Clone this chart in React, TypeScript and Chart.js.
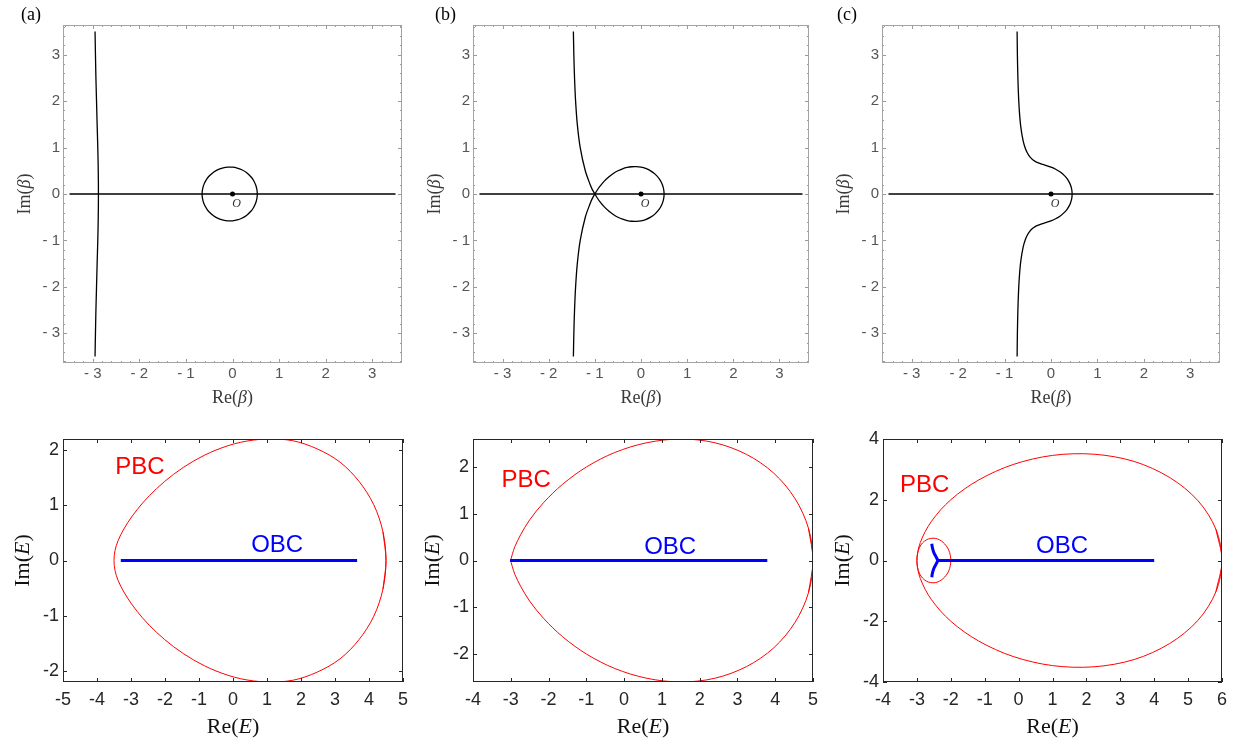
import React, { useEffect, useRef } from 'react';
import { Chart, registerables } from 'chart.js';

Chart.register(...registerables);

type Pt = [number, number];

// ---------- top row: beta plane curves ----------
const BETA_TICKS = [-3, -2, -1, 0, 1, 2, 3];
const BETA_RANGE: [number, number] = [-3.64, 3.64];
const BETA_AXIS: Pt[] = [[-3.5, 0], [3.5, 0]];
const BETA_ORIGIN: Pt[] = [[0, 0]];

const BETA_A_LOOP: Pt[] = [
  [-0.65, -0.055], [-0.653, 0], [-0.65, 0.055], [-0.63, 0.158], [-0.6, 0.238], [-0.55, 0.325], [-0.5, 0.387],
  [-0.4, 0.474], [-0.3, 0.53], [-0.2, 0.563], [-0.1, 0.579], [0, 0.577], [0.1, 0.559], [0.2, 0.522],
  [0.3, 0.462], [0.4, 0.366], [0.45, 0.296], [0.5, 0.189], [0.52, 0.117], [0.53, 0.049], [0.532, 0],
  [0.53, -0.049], [0.52, -0.117], [0.5, -0.189], [0.45, -0.296], [0.4, -0.366], [0.3, -0.462], [0.2, -0.522],
  [0.1, -0.559], [0, -0.577], [-0.1, -0.579], [-0.2, -0.563], [-0.3, -0.53], [-0.4, -0.474], [-0.5, -0.387],
  [-0.55, -0.325], [-0.6, -0.238], [-0.63, -0.158], [-0.65, -0.055], [-0.653, 0], [-0.65, 0.055],
];
const BETA_A_BRANCH: Pt[] = [
  [-2.952, -3.5], [-2.943, -3], [-2.933, -2.5], [-2.92, -2], [-2.907, -1.5], [-2.893, -1], [-2.883, -0.5],
  [-2.879, 0], [-2.883, 0.5], [-2.893, 1], [-2.907, 1.5], [-2.92, 2], [-2.933, 2.5], [-2.943, 3], [-2.952, 3.5],
];
const BETA_B_CURVE: Pt[] = [
  [-1.465, -3.5], [-1.455, -3], [-1.44, -2.5], [-1.417, -2], [-1.38, -1.5], [-1.317, -1], [-1.207, -0.5],
  [-1.1, -0.2], [-1.057, -0.1], [-1, 0], [-0.95, 0.081], [-0.9, 0.153], [-0.8, 0.273], [-0.7, 0.367],
  [-0.6, 0.442], [-0.5, 0.5], [-0.4, 0.543], [-0.3, 0.572], [-0.2, 0.587], [-0.1, 0.589], [0, 0.577],
  [0.1, 0.55], [0.2, 0.504], [0.3, 0.433], [0.4, 0.321], [0.45, 0.232], [0.48, 0.149], [0.495, 0.075],
  [0.5, 0], [0.495, -0.075], [0.48, -0.149], [0.45, -0.232], [0.4, -0.321], [0.3, -0.433], [0.2, -0.504],
  [0.1, -0.55], [0, -0.577], [-0.1, -0.589], [-0.2, -0.587], [-0.3, -0.572], [-0.4, -0.543], [-0.5, -0.5],
  [-0.6, -0.442], [-0.7, -0.367], [-0.8, -0.273], [-0.9, -0.153], [-0.95, -0.081], [-1, 0], [-1.057, 0.1],
  [-1.1, 0.2], [-1.207, 0.5], [-1.317, 1], [-1.38, 1.5], [-1.417, 2], [-1.44, 2.5], [-1.455, 3], [-1.465, 3.5],
];
const BETA_C_CURVE: Pt[] = [
  [-0.73, -3.5], [-0.724, -3], [-0.713, -2.5], [-0.7, -2.124], [-0.68, -1.763], [-0.65, -1.441], [-0.6, -1.143],
  [-0.55, -0.973], [-0.5, -0.866], [-0.45, -0.794], [-0.4, -0.745], [-0.35, -0.709], [-0.3, -0.682],
  [-0.2, -0.644], [-0.1, -0.612], [0, -0.577], [0.1, -0.533], [0.2, -0.472], [0.3, -0.385], [0.35, -0.324],
  [0.4, -0.24], [0.42, -0.193], [0.44, -0.128], [0.45, -0.076], [0.455, 0], [0.45, 0.076], [0.44, 0.128],
  [0.42, 0.193], [0.4, 0.24], [0.35, 0.324], [0.3, 0.385], [0.2, 0.472], [0.1, 0.533], [0, 0.577],
  [-0.1, 0.612], [-0.2, 0.644], [-0.3, 0.682], [-0.35, 0.709], [-0.4, 0.745], [-0.45, 0.794], [-0.5, 0.866],
  [-0.55, 0.973], [-0.6, 1.143], [-0.65, 1.441], [-0.68, 1.763], [-0.7, 2.124], [-0.713, 2.5], [-0.724, 3],
  [-0.73, 3.5],
];

// ---------- bottom row: spectra ----------
const E_X_TICKS_A = [-5, -4, -3, -2, -1, 0, 1, 2, 3, 4, 5];
const E_X_TICKS_B = [-4, -3, -2, -1, 0, 1, 2, 3, 4, 5];
const E_X_TICKS_C = [-4, -3, -2, -1, 0, 1, 2, 3, 4, 5, 6];
const E_Y_TICKS_AB = [-2, -1, 0, 1, 2];
const E_Y_TICKS_C = [-4, -2, 0, 2, 4];

const PBC_A: Pt[] = [
  [4.41, -0.52], [4.5, 0], [4.41, 0.52], [4.14, 1.01], [3.71, 1.43], [3.15, 1.78], [2.48, 2.02], [1.75, 2.17],
  [0.99, 2.2], [0.22, 2.14], [-0.5, 2], [-1.16, 1.8], [-1.75, 1.56], [-2.25, 1.3], [-2.66, 1.04], [-2.98, 0.79],
  [-3.21, 0.57], [-3.38, 0.36], [-3.47, 0.18], [-3.5, 0], [-3.47, -0.18], [-3.38, -0.36], [-3.21, -0.57],
  [-2.98, -0.79], [-2.66, -1.04], [-2.25, -1.3], [-1.75, -1.56], [-1.16, -1.8], [-0.5, -2], [0.22, -2.14],
  [0.99, -2.2], [1.75, -2.17], [2.48, -2.02], [3.15, -1.78], [3.71, -1.43], [4.14, -1.01], [4.41, -0.52],
  [4.5, 0], [4.41, 0.52],
];
const OBC_A: Pt[] = [[-3.3, 0], [3.65, 0]];

const PBC_B: Pt[] = [
  [4.88, -0.69], [5, 0], [4.88, 0.69], [4.52, 1.33], [3.96, 1.87], [3.24, 2.27], [2.4, 2.52], [1.5, 2.6],
  [0.6, 2.52], [-0.25, 2.31], [-1, 2], [-1.63, 1.63], [-2.13, 1.24], [-2.5, 0.87], [-2.74, 0.55], [-2.89, 0.3],
  [-2.96, 0.13], [-2.99, 0.04], [-3, 0], [-2.99, -0.04], [-2.96, -0.13], [-2.89, -0.3], [-2.74, -0.55],
  [-2.5, -0.87], [-2.13, -1.24], [-1.63, -1.63], [-1, -2], [-0.25, -2.31], [0.6, -2.52], [1.5, -2.6],
  [2.4, -2.52], [3.24, -2.27], [3.96, -1.87], [4.52, -1.33], [4.88, -0.69], [5, 0], [4.88, 0.69],
];
const OBC_B: Pt[] = [[-3.02, 0], [3.79, 0]];

const PBC_C: Pt[] = [
  [5.82, -1.03], [6, 0], [5.82, 1.03], [5.29, 1.97], [4.46, 2.73], [3.41, 3.26], [2.22, 3.5], [1.0, 3.46],
  [-0.16, 3.16], [-1.18, 2.65], [-2, 2], [-2.57, 1.29], [-2.9, 0.59], [-3, 0], [-2.92, -0.44], [-2.72, -0.68],
  [-2.46, -0.73], [-2.23, -0.6], [-2.06, -0.34], [-2, 0], [-2.06, 0.34], [-2.23, 0.6], [-2.46, 0.73],
  [-2.72, 0.68], [-2.92, 0.44], [-3, 0], [-2.9, -0.59], [-2.57, -1.29], [-2, -2], [-1.18, -2.65],
  [-0.16, -3.16], [1.0, -3.46], [2.22, -3.5], [3.41, -3.26], [4.46, -2.73], [5.29, -1.97], [5.82, -1.03],
  [6, 0], [5.82, 1.03],
];
const OBC_C: Pt[] = [[-2.38, 0], [4, 0]];
const OBC_C_ARM_UP: Pt[] = [[-2.38, 0], [-2.45, 0.15], [-2.51, 0.29], [-2.55, 0.46], [-2.56, 0.55]];
const OBC_C_ARM_DOWN: Pt[] = [[-2.38, 0], [-2.45, -0.15], [-2.51, -0.29], [-2.55, -0.46], [-2.56, -0.55]];

// ---------- panel description ----------
interface Seg { t: string; italic?: boolean }
interface Series { data: Pt[]; color: string; width: number; tension?: number; dot?: number }
interface TextMark { x: number; y: number; text: string; color: string; font: string; dx?: number; dy?: number }
interface PanelSpec {
  x: number; y: number; w: number; h: number;
  frame: { l: number; t: number; r: number; b: number };
  xRange: [number, number]; yRange: [number, number];
  xTicks: number[]; yTicks: number[];
  style: 'mma' | 'matlab';
  series: Series[];
  labels: TextMark[];
  xTitle: Seg[]; yTitle: Seg[];
  letter?: string; letterX?: number;
}

const STYLES = {
  mma: {
    tickFont: 15, tickColor: '#555555', frameColor: '#a3a3a3', markColor: '#9a9a9a', majorLen: 4, minorLen: 2,
    minorStep: 0.2, titleSize: 18, titleColor: '#3a3a3a', xTitleDy: 35, yTitleDx: 38, xPad: 2, yPad: 3,
  },
  matlab: {
    tickFont: 18, tickColor: '#262626', frameColor: '#262626', markColor: '#262626', majorLen: 4, minorLen: 0,
    minorStep: 0, titleSize: 22, titleColor: '#111111', xTitleDy: 45, yTitleDx: 40, xPad: 7, yPad: 4,
  },
};

const SANS = '"Liberation Sans", Arial, Helvetica, sans-serif';
const SERIF = '"Liberation Serif", "Times New Roman", serif';
const LABEL_FONT = `24px ${SANS}`;
const O_FONT = `italic 12px ${SERIF}`;

const BLACK = '#000000';
const RED = '#ff0000';
const BLUE = '#0000ff';

const reBeta: Seg[] = [{ t: 'Re(' }, { t: 'β', italic: true }, { t: ')' }];
const imBeta: Seg[] = [{ t: 'Im(' }, { t: 'β', italic: true }, { t: ')' }];
const reE: Seg[] = [{ t: 'Re(' }, { t: 'E', italic: true }, { t: ')' }];
const imE: Seg[] = [{ t: 'Im(' }, { t: 'E', italic: true }, { t: ')' }];

const originLabel: TextMark = { x: 0, y: 0, text: 'O', color: '#333333', font: O_FONT, dx: 4, dy: 10 };

const PANELS: PanelSpec[] = [
  {
    x: 0, y: 0, w: 410, h: 412, frame: { l: 63, t: 25, r: 402, b: 363 },
    xRange: BETA_RANGE, yRange: BETA_RANGE, xTicks: BETA_TICKS, yTicks: BETA_TICKS, style: 'mma',
    series: [
      { data: BETA_ORIGIN, color: BLACK, width: 0, dot: 2.5 },
      { data: BETA_AXIS, color: BLACK, width: 1.4 },
      { data: BETA_A_LOOP, color: BLACK, width: 1.3, tension: 0.33 },
      { data: BETA_A_BRANCH, color: BLACK, width: 1.3, tension: 0.33 },
    ],
    labels: [originLabel], xTitle: reBeta, yTitle: imBeta, letter: '(a)', letterX: 21,
  },
  {
    x: 410, y: 0, w: 410, h: 412, frame: { l: 473, t: 25, r: 809, b: 363 },
    xRange: BETA_RANGE, yRange: BETA_RANGE, xTicks: BETA_TICKS, yTicks: BETA_TICKS, style: 'mma',
    series: [
      { data: BETA_ORIGIN, color: BLACK, width: 0, dot: 2.5 },
      { data: BETA_AXIS, color: BLACK, width: 1.4 },
      { data: BETA_B_CURVE, color: BLACK, width: 1.3, tension: 0.33 },
    ],
    labels: [originLabel], xTitle: reBeta, yTitle: imBeta, letter: '(b)', letterX: 25,
  },
  {
    x: 820, y: 0, w: 421, h: 412, frame: { l: 882, t: 25, r: 1220, b: 363 },
    xRange: BETA_RANGE, yRange: BETA_RANGE, xTicks: BETA_TICKS, yTicks: BETA_TICKS, style: 'mma',
    series: [
      { data: BETA_ORIGIN, color: BLACK, width: 0, dot: 2.5 },
      { data: BETA_AXIS, color: BLACK, width: 1.4 },
      { data: BETA_C_CURVE, color: BLACK, width: 1.3, tension: 0.33 },
    ],
    labels: [originLabel], xTitle: reBeta, yTitle: imBeta, letter: '(c)', letterX: 17,
  },
  {
    x: 0, y: 412, w: 410, h: 334, frame: { l: 63, t: 439, r: 403, b: 682 },
    xRange: [-5, 5], yRange: [-2.2, 2.2], xTicks: E_X_TICKS_A, yTicks: E_Y_TICKS_AB, style: 'matlab',
    series: [
      { data: OBC_A, color: BLUE, width: 3 },
      { data: PBC_A, color: RED, width: 1, tension: 0.33 },
    ],
    labels: [
      { x: -2.74, y: 1.68, text: 'PBC', color: RED, font: LABEL_FONT },
      { x: 1.3, y: 0.28, text: 'OBC', color: BLUE, font: LABEL_FONT },
    ],
    xTitle: reE, yTitle: imE,
  },
  {
    x: 410, y: 412, w: 410, h: 334, frame: { l: 473, t: 439, r: 813, b: 682 },
    xRange: [-4, 5], yRange: [-2.6, 2.6], xTicks: E_X_TICKS_B, yTicks: E_Y_TICKS_AB, style: 'matlab',
    series: [
      { data: OBC_B, color: BLUE, width: 3 },
      { data: PBC_B, color: RED, width: 1, tension: 0.33 },
    ],
    labels: [
      { x: -2.59, y: 1.71, text: 'PBC', color: RED, font: LABEL_FONT },
      { x: 1.22, y: 0.29, text: 'OBC', color: BLUE, font: LABEL_FONT },
    ],
    xTitle: reE, yTitle: imE,
  },
  {
    x: 820, y: 412, w: 421, h: 334, frame: { l: 883, t: 439, r: 1222, b: 682 },
    xRange: [-4, 6], yRange: [-4, 4], xTicks: E_X_TICKS_C, yTicks: E_Y_TICKS_C, style: 'matlab',
    series: [
      { data: OBC_C, color: BLUE, width: 3 },
      { data: OBC_C_ARM_UP, color: BLUE, width: 3, tension: 0.3 },
      { data: OBC_C_ARM_DOWN, color: BLUE, width: 3, tension: 0.3 },
      { data: PBC_C, color: RED, width: 1, tension: 0.33 },
    ],
    labels: [
      { x: -2.77, y: 2.47, text: 'PBC', color: RED, font: LABEL_FONT },
      { x: 1.28, y: 0.45, text: 'OBC', color: BLUE, font: LABEL_FONT },
    ],
    xTitle: reE, yTitle: imE,
  },
];

function drawSegs(ctx: CanvasRenderingContext2D, segs: Seg[], size: number, color: string,
  cx: number, cy: number, rotate: boolean) {
  ctx.save();
  ctx.translate(cx, cy);
  if (rotate) ctx.rotate(-Math.PI / 2);
  const fonts = segs.map((s) => `${s.italic ? 'italic ' : ''}${size}px ${SERIF}`);
  let total = 0;
  const widths = segs.map((s, i) => {
    ctx.font = fonts[i];
    const w = ctx.measureText(s.t).width;
    total += w;
    return w;
  });
  let x = -total / 2;
  ctx.textAlign = 'left';
  ctx.textBaseline = 'middle';
  ctx.fillStyle = color;
  segs.forEach((s, i) => {
    ctx.font = fonts[i];
    ctx.fillText(s.t, x, 0);
    x += widths[i];
  });
  ctx.restore();
}

function buildConfig(p: PanelSpec): any {
  const st = STYLES[p.style];
  const padTop = p.frame.t - p.y;
  const padRight = p.x + p.w - p.frame.r;
  const yAxisW = p.frame.l - p.x;
  const xAxisH = p.y + p.h - p.frame.b;
  const fmt = (v: number) => (p.style === 'mma' && v < 0 ? `- ${Math.abs(v)}` : String(v));

  const plugin = {
    id: 'frameTicks',
    afterDatasetsDraw(chart: any) {
      const ctx: CanvasRenderingContext2D = chart.ctx;
      const a = chart.chartArea;
      const xs = chart.scales.x;
      const ys = chart.scales.y;
      ctx.save();
      const seg = (x1: number, y1: number, x2: number, y2: number) => {
        ctx.beginPath();
        ctx.moveTo(x1, y1);
        ctx.lineTo(x2, y2);
        ctx.stroke();
      };
      ctx.strokeStyle = st.markColor;
      ctx.lineWidth = 1;
      const xMark = (v: number, len: number) => {
        const px = Math.round(xs.getPixelForValue(v)) + 0.5;
        seg(px, a.bottom, px, a.bottom - len);
        seg(px, a.top, px, a.top + len);
      };
      const yMark = (v: number, len: number) => {
        const py = Math.round(ys.getPixelForValue(v)) + 0.5;
        seg(a.left, py, a.left + len, py);
        seg(a.right, py, a.right - len, py);
      };
      if (st.minorStep > 0) {
        for (let v = Math.ceil(p.xRange[0] / st.minorStep) * st.minorStep; v <= p.xRange[1] + 1e-9; v += st.minorStep) {
          xMark(v, st.minorLen);
        }
        for (let v = Math.ceil(p.yRange[0] / st.minorStep) * st.minorStep; v <= p.yRange[1] + 1e-9; v += st.minorStep) {
          yMark(v, st.minorLen);
        }
      }
      p.xTicks.forEach((v) => xMark(v, st.majorLen));
      p.yTicks.forEach((v) => yMark(v, st.majorLen));
      ctx.strokeStyle = st.frameColor;
      ctx.lineWidth = 1;
      ctx.strokeRect(a.left + 0.5, a.top + 0.5, a.right - a.left - 1, a.bottom - a.top - 1);

      p.labels.forEach((t) => {
        ctx.font = t.font;
        ctx.fillStyle = t.color;
        ctx.textAlign = 'center';
        ctx.textBaseline = 'middle';
        ctx.fillText(t.text, xs.getPixelForValue(t.x) + (t.dx || 0), ys.getPixelForValue(t.y) + (t.dy || 0));
      });

      const cxFrame = (a.left + a.right) / 2;
      const cyFrame = (a.top + a.bottom) / 2;
      drawSegs(ctx, p.xTitle, st.titleSize, st.titleColor, cxFrame, a.bottom + st.xTitleDy, false);
      drawSegs(ctx, p.yTitle, st.titleSize, st.titleColor, a.left - st.yTitleDx, cyFrame, true);

      if (p.letter) {
        ctx.font = `18px ${SERIF}`;
        ctx.fillStyle = '#000000';
        ctx.textAlign = 'left';
        ctx.textBaseline = 'top';
        ctx.fillText(p.letter, p.letterX || 0, 6);
      }
      ctx.restore();
    },
  };

  const tickFont = { family: SANS, size: st.tickFont };

  return {
    type: 'scatter',
    data: {
      datasets: p.series.map((s) => ({
        data: s.data.map(([x, y]) => ({ x, y })),
        showLine: !s.dot,
        borderColor: s.color,
        borderWidth: s.width,
        backgroundColor: s.color,
        pointRadius: s.dot || 0,
        pointBorderWidth: 0,
        pointBackgroundColor: s.color,
        tension: s.tension || 0,
        fill: false,
      })),
    },
    options: {
      responsive: false,
      animation: false,
      events: [],
      layout: { padding: { top: padTop, right: padRight, left: 0, bottom: 0 } },
      plugins: { legend: { display: false }, tooltip: { enabled: false } },
      scales: {
        x: {
          type: 'linear', position: 'bottom', min: p.xRange[0], max: p.xRange[1],
          afterBuildTicks: (s: any) => { s.ticks = p.xTicks.map((v) => ({ value: v })); },
          afterFit: (s: any) => { s.height = xAxisH; s.paddingLeft = 0; s.paddingRight = 0; },
          grid: { display: false, drawTicks: false },
          border: { display: false },
          ticks: {
            autoSkip: false, maxRotation: 0, minRotation: 0, padding: st.xPad,
            color: st.tickColor, font: tickFont, callback: (v: number) => fmt(v),
          },
        },
        y: {
          type: 'linear', position: 'left', min: p.yRange[0], max: p.yRange[1],
          afterBuildTicks: (s: any) => { s.ticks = p.yTicks.map((v) => ({ value: v })); },
          afterFit: (s: any) => { s.width = yAxisW; s.paddingTop = 0; s.paddingBottom = 0; },
          grid: { display: false, drawTicks: false },
          border: { display: false },
          ticks: {
            autoSkip: false, padding: st.yPad,
            color: st.tickColor, font: tickFont, callback: (v: number) => fmt(v),
          },
        },
      },
    },
    plugins: [plugin],
  };
}

function Panel({ spec }: { spec: PanelSpec }) {
  const ref = useRef<HTMLCanvasElement>(null);
  useEffect(() => {
    if (!ref.current) return;
    const chart = new Chart(ref.current, buildConfig(spec));
    return () => chart.destroy();
  }, [spec]);
  return (
    <canvas
      ref={ref}
      width={spec.w}
      height={spec.h}
      style={{ position: 'absolute', left: spec.x, top: spec.y, width: spec.w, height: spec.h }}
    />
  );
}

export default function App() {
  return (
    <div style={{ position: 'fixed', left: 0, top: 0, width: 1241, height: 746, background: '#ffffff', overflow: 'hidden' }}>
      {PANELS.map((p, i) => <Panel key={i} spec={p} />)}
    </div>
  );
}
